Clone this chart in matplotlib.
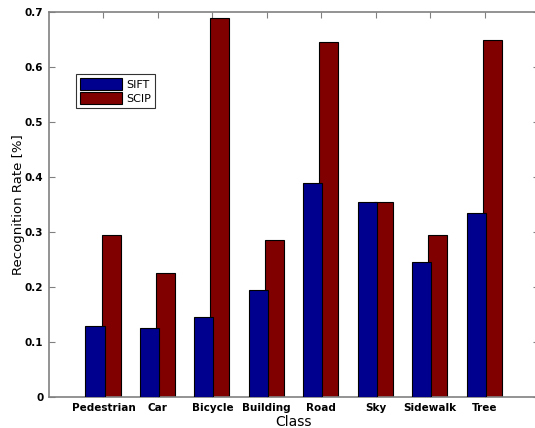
import matplotlib
matplotlib.use('Agg')
import matplotlib.pyplot as plt
import numpy as np

# Class names and recognition rates
classes = ['Pedestrian', 'Car', 'Bicycle', 'Building', 'Road', 'Sky', 'Sidewalk', 'Tree']
sift = [0.13, 0.125, 0.145, 0.195, 0.39, 0.355, 0.245, 0.335]
scip = [0.295, 0.225, 0.69, 0.285, 0.645, 0.355, 0.295, 0.65]

fig = plt.figure(figsize=(5.35, 4.28), dpi=100)
ax = fig.add_axes([49 / 535, 1 - 397 / 428, 490 / 535, 385 / 428])

x = np.arange(1, len(classes) + 1)
w = 0.35
ax.bar(x + 0.14, scip, w, color='#800000', edgecolor='black', linewidth=0.8, label='SCIP', zorder=2)
ax.bar(x - 0.155, sift, w, color='#00008F', edgecolor='black', linewidth=0.8, label='SIFT', zorder=3)

ax.set_xlim(0, 9)
ax.set_ylim(0, 0.7)
ax.set_xticks(x)
ax.set_xticklabels(classes, fontsize=7.5, fontweight='bold')
ax.set_yticks(np.arange(0, 0.71, 0.1))
ax.set_yticklabels(['0', '0.1', '0.2', '0.3', '0.4', '0.5', '0.6', '0.7'], fontsize=7.5, fontweight='bold')
ax.tick_params(direction='in', top=True, right=True, length=4, color='#808080', pad=4)
for s in ax.spines.values():
    s.set_color('#808080')
    s.set_linewidth(1.2)

ax.set_xlabel('Class', fontsize=10, labelpad=2)
ax.set_ylabel('Recognition Rate [%]', fontsize=9.5, labelpad=0)

handles, labels = ax.get_legend_handles_labels()
leg = ax.legend(handles[::-1], labels[::-1], loc='upper left', bbox_to_anchor=(0.055, 0.838),
                fontsize=8, frameon=True, fancybox=False, edgecolor='black',
                handlelength=3.8, handleheight=1.2, borderpad=0.35, labelspacing=0.25,
                handletextpad=0.4, borderaxespad=0)
leg.get_frame().set_linewidth(0.8)

fig.savefig('out.png', dpi=100)
